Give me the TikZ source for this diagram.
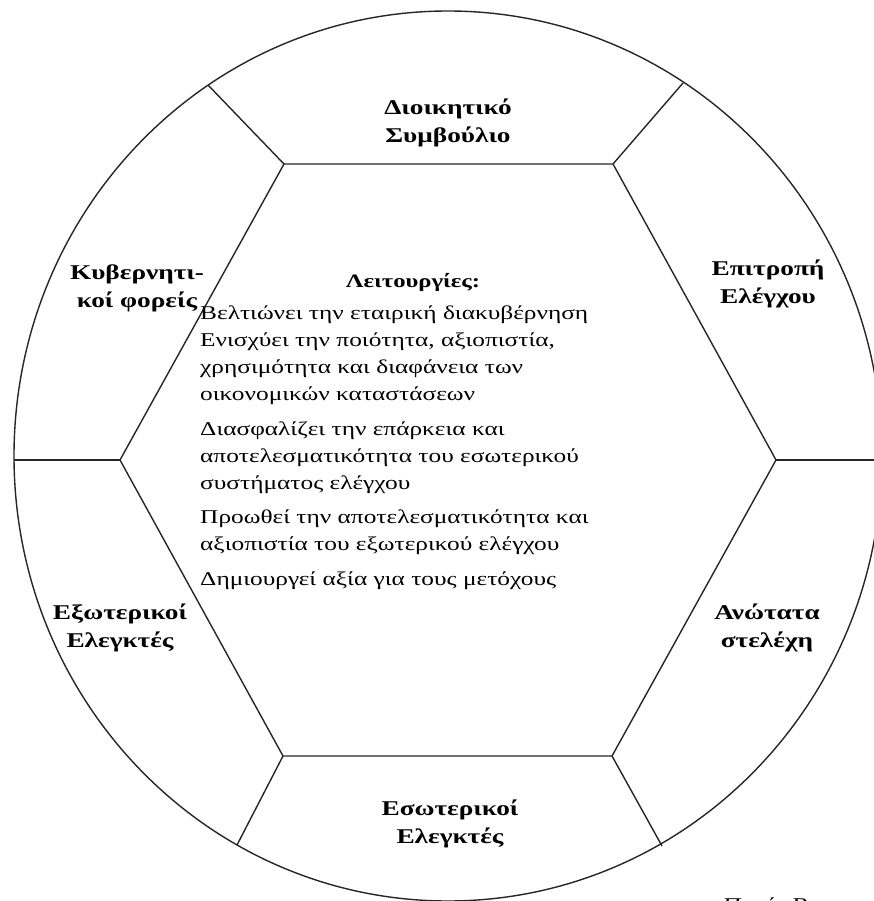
\documentclass[tikz,border=0pt]{standalone}
\usepackage{fontspec}
\setmainfont{Liberation Serif}[FakeStretch=1.3]
\begin{document}
\begin{tikzpicture}[x=1pt,y=1pt,
  frame/.style={draw=black!85, line width=1.4pt},
  lbl/.style={font=\fontsize{21}{28}\selectfont\bfseries, align=center, inner sep=0pt},
  body/.style={font=\fontsize{19.5}{27}\selectfont, align=left, inner sep=0pt, anchor=north west}]
\useasboundingbox (0,0) rectangle (873,-901);
% hexagon vertices
\coordinate (hL) at (120,-460);
\coordinate (hTL) at (284,-164);
\coordinate (hTR) at (613,-164);
\coordinate (hR) at (776,-460);
\coordinate (hBR) at (612,-756);
\coordinate (hBL) at (283,-756);
% spoke ends on the circle
\coordinate (cL) at (14,-460);
\coordinate (cTL) at (208,-85);
\coordinate (cTR) at (683,-83);
\coordinate (cR) at (882,-460);
\coordinate (cBR) at (662,-846);
\coordinate (cBL) at (237,-845);
\coordinate (ctr) at (448,-456);
\draw[frame] (ctr) ellipse [x radius=434, y radius=445];
\draw[frame] (hL) -- (hTL) -- (hTR) -- (hR) -- (hBR) -- (hBL) -- cycle;
\draw[frame] (hL) -- (cL);
\draw[frame] (hTL) -- (cTL);
\draw[frame] (hTR) -- (cTR);
\draw[frame] (hR) -- (cR);
\draw[frame] (hBR) -- (cBR);
\draw[frame] (hBL) -- (cBL);
% labels
\node[lbl] (board) at (448,-123) {Διοικητικό\\Συμβούλιο};
\node[lbl] (audit) at (768,-284) {Επιτροπή\\Ελέγχου};
\node[lbl] (exec) at (767,-628) {Ανώτατα\\στελέχη};
\node[lbl] (intaud) at (450,-824) {Εσωτερικοί\\Ελεγκτές};
\node[lbl] (extaud) at (120,-628) {Εξωτερικοί\\Ελεγκτές};
\node[lbl] (gov) at (137,-288) {Κυβερνητι-\\κοί φορείς};
\node[lbl, anchor=base, font=\fontsize{19}{24}\selectfont\bfseries] (title) at (413,-287) {Λειτουργίες:};
\node[body] (list) at (200,-306) {Βελτιώνει την εταιρική διακυβέρνηση\\
Ενισχύει την ποιότητα, αξιοπιστία,\\
χρησιμότητα και διαφάνεια των\\
οικονομικών καταστάσεων\\[8pt]
Διασφαλίζει την επάρκεια και\\
αποτελεσματικότητα του εσωτερικού\\
συστήματος ελέγχου\\[7pt]
Προωθεί την αποτελεσματικότητα και\\
αξιοπιστία του εξωτερικού ελέγχου\\[8pt]
Δημιουργεί αξία για τους μετόχους};
\node[anchor=base west, inner sep=0pt, font=\fontsize{19.5}{24}\selectfont] (src) at (722,-911) {\textit{Πηγή:} Rezaee};
\end{tikzpicture}
\end{document}
